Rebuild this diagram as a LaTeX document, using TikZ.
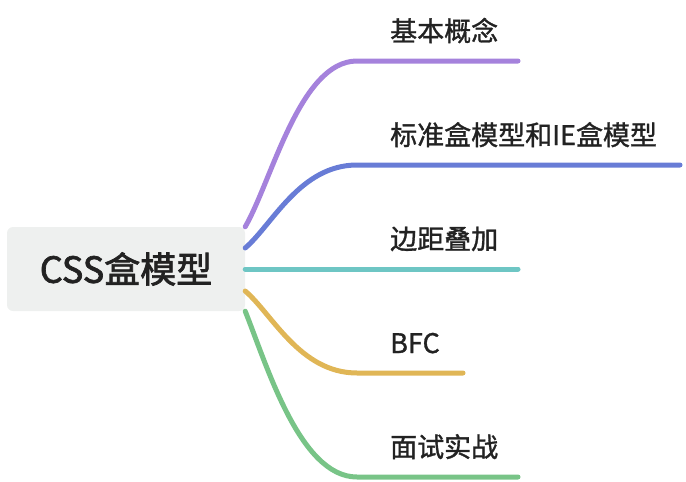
\documentclass[tikz,border=0pt]{standalone}
\usepackage{fontspec}
\newfontfamily\cjk[FakeBold=1.2]{Noto Sans CJK SC}
\newfontfamily\cjkroot[FakeBold=2]{Noto Sans CJK SC}
\usetikzlibrary{positioning}
\definecolor{mmpurple}{HTML}{A582DC}
\definecolor{mmblue}{HTML}{687CD6}
\definecolor{mmteal}{HTML}{6EC6C4}
\definecolor{mmyellow}{HTML}{E0B656}
\definecolor{mmgreen}{HTML}{78C487}
\definecolor{mmroot}{HTML}{EEF0EF}
\definecolor{mmtext}{HTML}{222222}

\begin{document}
\begin{tikzpicture}[x=1pt, y=-1pt,
    every node/.style={font=\cjk, text=mmtext},
    branch/.style={line width=5pt, line cap=round},
    leaf/.style={anchor=base west, inner sep=0pt, font=\cjk\fontsize{27}{30}\selectfont}]
  \useasboundingbox (0,0) rectangle (686,482);

  % Root topic
  \node[rectangle, rounded corners=6pt, fill=mmroot, minimum width=238pt, minimum height=84pt,
        font=\cjkroot\fontsize{36}{40}\selectfont] (root) at (126,269) {CSS盒模型};

  % Branch ends
  \coordinate (concept-end) at (518,61);
  \coordinate (standard-end) at (680,165);
  \coordinate (margin-end) at (518,269);
  \coordinate (bfc-end) at (463,373);
  \coordinate (interview-end) at (518,477);

  % Branch labels
  \node[leaf] (concept) at (390,41) {基本概念};
  \node[leaf] (standard) at (390,145) {标准盒模型和IE盒模型};
  \node[leaf] (margin) at (390,249) {边距叠加};
  \node[leaf] (bfc) at (390,353) {BFC};
  \node[leaf] (interview) at (390,457) {面试实战};

  % Branches
  \draw[branch, mmpurple] (root.north east) .. controls +(27,-47) and +(-57,0) .. (357,61) -- (concept-end);
  \draw[branch, mmblue] ([yshift=21pt]root.east) .. controls +(27,-23) and +(-57,0) .. (357,165) -- (standard-end);
  \draw[branch, mmteal] (root.east) -- (margin-end);
  \draw[branch, mmyellow] ([yshift=-22pt]root.east) .. controls +(27,23) and +(-57,0) .. (357,373) -- (bfc-end);
  \draw[branch, mmgreen] (root.south east) .. controls +(22,55) and +(-57,0) .. (357,477) -- (interview-end);
\end{tikzpicture}
\end{document}
